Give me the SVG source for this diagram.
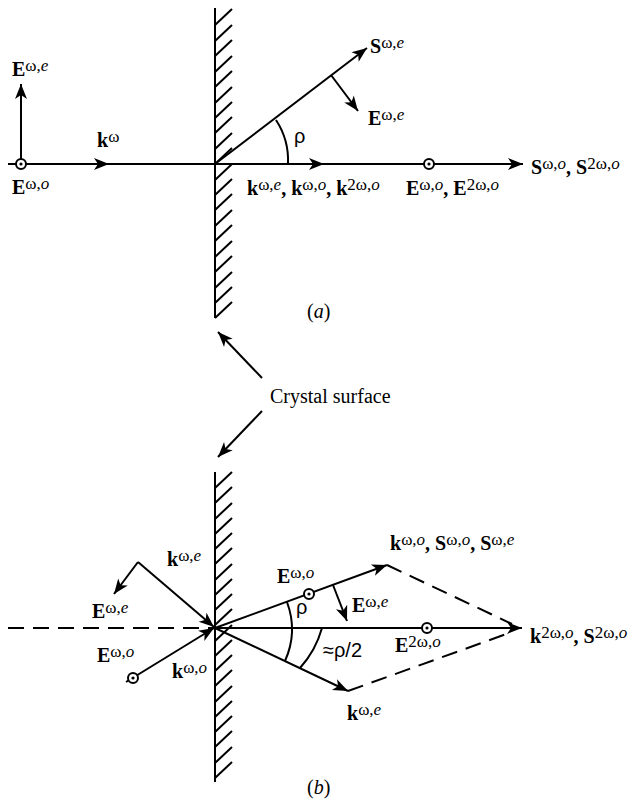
<svg xmlns="http://www.w3.org/2000/svg" width="640" height="806" viewBox="0 0 640 806">
<style>
.ln{stroke:#000;stroke-width:2;fill:none}
.ar{marker-end:url(#ah)}
.dash{stroke-dasharray:16 9}
.t{font-family:"Liberation Serif",serif;font-size:20px;fill:#000}
.b{font-weight:bold}
.s{font-size:17px;font-weight:normal}
.i{font-style:italic}
.sans{font-family:"Liberation Sans",sans-serif;font-size:20px;fill:#000}
</style>
<defs>
<marker id="ah" markerUnits="userSpaceOnUse" markerWidth="16" markerHeight="12" refX="15" refY="6" orient="auto" overflow="visible">
<path d="M0,0 L15,6 L0,12 L4,6 z" fill="#000"/>
</marker>
<g id="od"><circle r="5" fill="#fff" stroke="#000" stroke-width="2"/><circle r="1.6" fill="#000"/></g>
</defs>
<rect width="640" height="806" fill="#fff"/>

<g id="wall-a">
<path class="ln" d="M215,8 V318"/>
<path class="ln" stroke-width="1.8" d="M215,25 l17,-16 M215,41 l17,-16 M215,56 l17,-16 M215,72 l17,-16 M215,87 l17,-16 M215,103 l17,-16 M215,118 l17,-16 M215,133 l17,-16 M215,149 l17,-16 M215,164 l17,-16 M215,180 l17,-16 M215,195 l17,-16 M215,210 l17,-16 M215,226 l17,-16 M215,241 l17,-16 M215,257 l17,-16 M215,272 l17,-16 M215,288 l17,-16 M215,303 l17,-16 M215,318 l17,-16"/>
</g>
<g id="wall-b">
<path class="ln" d="M215,472 V782"/>
<path class="ln" stroke-width="1.8" d="M215,488 l17,-16 M215,503 l17,-16 M215,519 l17,-16 M215,534 l17,-16 M215,549 l17,-16 M215,564 l17,-16 M215,580 l17,-16 M215,595 l17,-16 M215,610 l17,-16 M215,625 l17,-16 M215,641 l17,-16 M215,656 l17,-16 M215,671 l17,-16 M215,686 l17,-16 M215,702 l17,-16 M215,717 l17,-16 M215,732 l17,-16 M215,747 l17,-16 M215,763 l17,-16 M215,778 l17,-16"/>
</g>

<g id="connectors">
<!-- panel a -->
<path class="ln ar" d="M8,164 H523"/>
<path class="ln ar" d="M90,164 H109"/>
<path class="ln ar" d="M305,164 H324"/>
<path class="ln ar" d="M21,164 V84"/>
<path class="ln ar" d="M215,164 L367,48"/>
<path class="ln ar" d="M331,75 L358,111"/>
<path class="ln" d="M276,120 A74,74 0 0 1 288,164"/>
<!-- crystal surface pointers -->
<path class="ln ar" d="M262,378 L218,332"/>
<path class="ln ar" d="M262,411 L218,457"/>
<!-- panel b -->
<path class="ln dash" d="M8,628 H215"/>
<path class="ln ar" d="M215,628 H522"/>
<path class="ln ar" d="M138,562 L214,627"/>
<path class="ln ar" d="M138,562 L114,594"/>
<path class="ln ar" d="M126,682 L214,628"/>
<path class="ln ar" d="M215,628 L387,565"/>
<path class="ln ar" d="M333,585 L347,621"/>
<path class="ln ar" d="M215,628 L348,691"/>
<path class="ln dash" d="M387,565 L512,624"/>
<path class="ln dash" d="M348,691 L512,632"/>
<path class="ln" d="M287,602 A78,78 0 0 1 285,661"/>
<path class="ln" d="M322,628 A100,100 0 0 1 300,668"/>
</g>

<g id="dots">
<use href="#od" x="21" y="164"/>
<use href="#od" x="429" y="164"/>
<use href="#od" x="133" y="678"/>
<use href="#od" x="309" y="594"/>
<use href="#od" x="427" y="628"/>
</g>

<g id="labels-a">
<text class="t" x="12" y="76"><tspan class="b">E</tspan><tspan class="s" dy="-5">ω,<tspan class="i">e</tspan></tspan></text>
<text class="t" x="97" y="147"><tspan class="b">k</tspan><tspan class="s" dy="-5">ω</tspan></text>
<text class="t" x="12" y="194"><tspan class="b">E</tspan><tspan class="s" dy="-5">ω,<tspan class="i">o</tspan></tspan></text>
<text class="t" x="370" y="53"><tspan class="b">S</tspan><tspan class="s" dy="-5">ω,<tspan class="i">e</tspan></tspan></text>
<text class="t" x="368" y="125"><tspan class="b">E</tspan><tspan class="s" dy="-5">ω,<tspan class="i">e</tspan></tspan></text>
<text class="sans" x="294" y="143">ρ</text>
<text class="t" x="247" y="195"><tspan class="b">k</tspan><tspan class="s" dy="-5">ω,<tspan class="i">e</tspan></tspan><tspan class="b" dy="5">, k</tspan><tspan class="s" dy="-5">ω,<tspan class="i">o</tspan></tspan><tspan class="b" dy="5">, k</tspan><tspan class="s" dy="-5">2ω,<tspan class="i">o</tspan></tspan></text>
<text class="t" x="406" y="195"><tspan class="b">E</tspan><tspan class="s" dy="-5">ω,<tspan class="i">o</tspan></tspan><tspan class="b" dy="5">, E</tspan><tspan class="s" dy="-5">2ω,<tspan class="i">o</tspan></tspan></text>
<text class="t" x="531" y="174"><tspan class="b">S</tspan><tspan class="s" dy="-5">ω,<tspan class="i">o</tspan></tspan><tspan class="b" dy="5">, S</tspan><tspan class="s" dy="-5">2ω,<tspan class="i">o</tspan></tspan></text>
<text class="t" x="307" y="318" font-size="22">(<tspan class="i">a</tspan>)</text>
</g>

<g id="crystal-surface">
<text class="t" x="270" y="403" font-size="23">Crystal surface</text>
</g>

<g id="labels-b">
<text class="t" x="167" y="566"><tspan class="b">k</tspan><tspan class="s" dy="-5">ω,<tspan class="i">e</tspan></tspan></text>
<text class="t" x="92" y="618"><tspan class="b">E</tspan><tspan class="s" dy="-5">ω,<tspan class="i">e</tspan></tspan></text>
<text class="t" x="97" y="662"><tspan class="b">E</tspan><tspan class="s" dy="-5">ω,<tspan class="i">o</tspan></tspan></text>
<text class="t" x="172" y="678"><tspan class="b">k</tspan><tspan class="s" dy="-5">ω,<tspan class="i">o</tspan></tspan></text>
<text class="t" x="277" y="583"><tspan class="b">E</tspan><tspan class="s" dy="-5">ω,<tspan class="i">o</tspan></tspan></text>
<text class="t" x="352" y="612"><tspan class="b">E</tspan><tspan class="s" dy="-5">ω,<tspan class="i">e</tspan></tspan></text>
<text class="sans" x="296" y="614">ρ</text>
<text class="sans" x="323" y="657">≈ρ/2</text>
<text class="t" x="390" y="550"><tspan class="b">k</tspan><tspan class="s" dy="-5">ω,<tspan class="i">o</tspan></tspan><tspan class="b" dy="5">, S</tspan><tspan class="s" dy="-5">ω,<tspan class="i">o</tspan></tspan><tspan class="b" dy="5">, S</tspan><tspan class="s" dy="-5">ω,<tspan class="i">e</tspan></tspan></text>
<text class="t" x="395" y="652"><tspan class="b">E</tspan><tspan class="s" dy="-5">2ω,<tspan class="i">o</tspan></tspan></text>
<text class="t" x="530" y="643"><tspan class="b">k</tspan><tspan class="s" dy="-5">2ω,<tspan class="i">o</tspan></tspan><tspan class="b" dy="5">, S</tspan><tspan class="s" dy="-5">2ω,<tspan class="i">o</tspan></tspan></text>
<text class="t" x="347" y="720"><tspan class="b">k</tspan><tspan class="s" dy="-5">ω,<tspan class="i">e</tspan></tspan></text>
<text class="t" x="307" y="794" font-size="22">(<tspan class="i">b</tspan>)</text>
</g>
</svg>
